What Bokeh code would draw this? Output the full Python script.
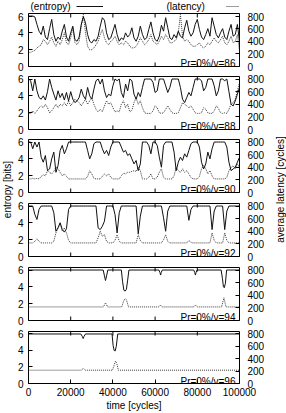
import math
from bokeh.plotting import figure
from bokeh.models import LinearAxis, Range1d, Label, Legend, LegendItem, FixedTicker
from bokeh.layouts import row, column
from bokeh.embed import file_html
from bokeh.resources import INLINE

FONT = "Liberation Sans"

# ---------------- data ----------------
time = list(range(0, 100001, 1000))

x_ticks = [0, 20000, 40000, 60000, 80000, 100000]
x_tick_labels = ["0", "20000", "40000", "60000", "80000", "100000"]
ent_ticks = [0, 2, 4, 6]
ent_tick_labels = ["0", "2", "4", "6"]
lat_ticks = [0, 200, 400, 600, 800]
lat_tick_labels = ["0", "200", "400", "600", "800"]

tags = ["Pr=0%/v=86", "Pr=0%/v=88", "Pr=0%/v=90", "Pr=0%/v=92", "Pr=0%/v=94", "Pr=0%/v=96"]

ent1 = [6.0, 6.0, 6.0, 5.9, 5.0, 4.2, 3.8, 4.8, 3.5, 3.2,
        4.5, 5.6, 3.8, 3.0, 3.5, 3.2, 4.2, 5.0, 3.5, 3.0,
        4.0, 4.8, 3.2, 3.0, 3.5, 5.0, 5.9, 5.2, 3.8, 3.0,
        2.8, 3.2, 3.0, 3.6, 4.8, 5.8, 5.5, 4.0, 3.2, 3.4,
        4.2, 5.0, 3.8, 3.0, 3.4, 3.2, 4.0, 3.5, 3.8, 4.6,
        3.4, 3.0, 3.6, 4.8, 3.8, 3.2, 3.4, 4.4, 5.3, 4.0,
        3.2, 3.0, 3.6, 4.9, 4.2, 5.8, 4.6, 3.4, 3.2, 3.8,
        3.4, 4.2, 3.6, 3.4, 4.6, 5.5, 4.2, 3.6, 4.0, 5.0,
        5.6, 4.4, 3.5, 3.2, 3.8, 4.5, 3.6, 5.8, 4.8, 3.8,
        3.4, 4.0, 4.5, 3.5, 3.2, 4.2, 5.0, 3.6, 3.8, 5.0,
        3.0]
lat1 = [225, 225, 240, 255, 295, 320, 345, 425, 400, 345,
        400, 465, 375, 320, 400, 345, 425, 535, 375, 345,
        455, 615, 375, 345, 400, 640, 825, 535, 320, 265,
        265, 295, 345, 400, 505, 585, 455, 375, 345, 400,
        425, 480, 400, 345, 375, 345, 400, 375, 320, 295,
        295, 320, 375, 455, 400, 345, 375, 425, 505, 400,
        375, 345, 400, 480, 425, 505, 455, 375, 375, 400,
        425, 535, 825, 480, 400, 425, 400, 345, 320, 320,
        345, 375, 320, 295, 320, 375, 345, 400, 455, 400,
        375, 425, 480, 375, 345, 400, 480, 375, 400, 505,
        240]

ent2 = [6.0, 5.8, 4.6, 6.0, 4.6, 3.8, 3.6, 4.0, 3.5, 4.5,
        6.0, 5.0, 4.2, 3.5, 4.6, 3.8, 4.3, 3.5, 4.4, 3.4,
        4.5, 3.6, 3.2, 3.4, 3.8, 4.8, 4.0, 3.6, 5.0, 4.0,
        3.6, 4.8, 5.8, 6.0, 5.4, 6.0, 4.6, 3.8, 4.2, 4.0,
        5.2, 6.0, 5.8, 6.0, 4.4, 3.8, 5.4, 4.6, 6.0, 5.8,
        4.2, 3.6, 4.4, 3.9, 5.0, 6.0, 6.0, 6.0, 6.0, 5.6,
        4.4, 4.6, 6.0, 6.0, 6.0, 5.2, 4.4, 5.0, 6.0, 6.0,
        6.0, 6.0, 5.0, 3.6, 3.2, 3.8, 4.4, 4.0, 5.0, 6.0,
        6.0, 6.0, 5.8, 4.6, 5.0, 6.0, 6.0, 6.0, 5.2, 4.0,
        4.6, 6.0, 6.0, 5.8, 6.0, 4.5, 3.0, 2.8, 3.4, 4.2,
        5.0]
lat2 = [255, 255, 295, 255, 295, 345, 375, 345, 400, 345,
        265, 295, 345, 400, 345, 400, 375, 425, 375, 455,
        375, 425, 480, 455, 425, 375, 425, 480, 400, 455,
        505, 400, 320, 280, 320, 280, 375, 455, 400, 425,
        345, 280, 295, 280, 400, 455, 345, 400, 280, 305,
        425, 505, 400, 455, 345, 265, 255, 255, 255, 295,
        375, 345, 265, 255, 265, 320, 375, 320, 265, 255,
        255, 265, 345, 425, 400, 375, 345, 375, 320, 265,
        255, 255, 265, 345, 320, 265, 255, 255, 295, 375,
        335, 265, 255, 265, 255, 320, 400, 425, 480, 615,
        745]

ent3 = [6.0, 6.0, 5.2, 6.0, 5.4, 6.0, 4.2, 3.6, 4.4, 2.6,
        2.8, 4.0, 4.8, 2.4, 3.2, 5.0, 5.6, 4.6, 5.2, 6.0,
        6.0, 6.0, 6.0, 6.0, 6.0, 6.0, 6.0, 6.0, 5.0, 4.0,
        4.6, 5.8, 6.0, 6.0, 6.0, 5.2, 4.6, 5.0, 4.4, 5.4,
        6.0, 6.0, 6.0, 6.0, 5.4, 4.8, 5.0, 4.4, 4.6, 4.0,
        3.4, 3.8, 2.6, 3.4, 6.0, 6.0, 6.0, 5.6, 4.6, 6.0,
        6.0, 5.6, 4.2, 3.0, 5.6, 6.0, 6.0, 6.0, 6.0, 4.8,
        2.6, 3.6, 4.2, 3.8, 4.6, 4.2, 5.0, 5.8, 6.0, 6.0,
        6.0, 5.4, 3.6, 2.8, 3.4, 4.8, 4.0, 5.2, 6.0, 6.0,
        6.0, 6.0, 6.0, 6.0, 5.4, 3.6, 2.6, 2.8, 3.0, 3.6,
        4.2]
lat3 = [215, 215, 225, 215, 225, 215, 255, 280, 265, 345,
        320, 295, 335, 400, 375, 320, 265, 295, 255, 215,
        215, 215, 215, 215, 215, 215, 215, 215, 255, 345,
        295, 225, 215, 215, 215, 255, 295, 265, 295, 240,
        215, 215, 215, 215, 265, 305, 295, 320, 320, 335,
        345, 335, 400, 345, 215, 215, 215, 240, 295, 215,
        215, 240, 320, 375, 240, 215, 215, 215, 215, 265,
        400, 345, 320, 375, 320, 345, 295, 240, 215, 215,
        215, 255, 375, 425, 375, 295, 345, 265, 215, 215,
        215, 215, 215, 215, 240, 345, 400, 425, 375, 455,
        400]

ent4 = [6.0, 6.0, 6.0, 5.0, 4.4, 5.6, 6.0, 6.0, 6.0, 6.0,
        6.0, 6.0, 5.2, 3.0, 3.4, 4.0, 3.2, 2.9, 3.3, 5.6,
        6.0, 6.0, 6.0, 6.0, 6.0, 6.0, 6.0, 6.0, 6.0, 6.0,
        6.0, 6.0, 6.0, 3.4, 3.2, 3.6, 4.2, 6.0, 6.0, 6.0,
        6.0, 5.0, 2.8, 5.2, 6.0, 6.0, 6.0, 6.0, 6.0, 6.0,
        6.0, 6.0, 2.7, 4.8, 6.0, 6.0, 6.0, 6.0, 6.0, 6.0,
        6.0, 6.0, 6.0, 6.0, 4.6, 3.0, 5.4, 6.0, 6.0, 6.0,
        6.0, 6.0, 6.0, 6.0, 6.0, 6.0, 4.3, 5.6, 6.0, 6.0,
        6.0, 6.0, 6.0, 6.0, 6.0, 6.0, 6.0, 3.2, 5.4, 6.0,
        6.0, 6.0, 6.0, 3.2, 5.4, 6.0, 6.0, 6.0, 6.0, 6.0,
        6.0]
lat4 = [215, 215, 215, 240, 280, 240, 215, 215, 215, 215,
        215, 215, 240, 375, 455, 535, 400, 455, 375, 255,
        215, 215, 215, 215, 215, 215, 215, 215, 215, 215,
        215, 215, 215, 295, 400, 320, 345, 240, 215, 215,
        215, 255, 345, 240, 215, 215, 215, 215, 215, 215,
        215, 215, 345, 255, 215, 215, 215, 215, 215, 215,
        215, 215, 215, 215, 265, 345, 240, 215, 215, 215,
        215, 215, 215, 215, 215, 215, 255, 225, 215, 215,
        215, 215, 215, 215, 215, 215, 215, 375, 255, 215,
        215, 215, 215, 375, 255, 215, 215, 215, 215, 215,
        215]

t5_ent = [0, 35400, 36000, 36500, 37000, 37600, 44000, 44600, 45200, 45800, 46400,
          47000, 47600, 61800, 62300, 62600, 62900, 63400, 78300, 78800, 79100,
          79400, 79900, 91300, 91900, 92400, 92800, 93300, 93900, 100000]
ent5 = [6.0, 6.0, 5.3, 4.75, 5.3, 6.0, 6.0, 4.6, 3.6, 3.5, 3.7,
        4.8, 6.0, 6.0, 5.7, 5.4, 5.7, 6.0, 6.0, 5.7, 5.4,
        5.7, 6.0, 6.0, 5.0, 4.0, 3.9, 4.4, 6.0, 6.0]
t5_lat = [0, 35500, 36500, 37500, 44200, 45200, 45800, 46400, 47400, 61800,
          62600, 63400, 78300, 79100, 79900, 91500, 92600, 93600, 100000]
lat5 = [215, 215, 280, 215, 215, 320, 345, 330, 215, 215,
        245, 215, 215, 245, 215, 215, 360, 215, 215]

t6_ent = [0, 24800, 25500, 25900, 26300, 27000, 39600, 40100, 40600, 41100,
          41600, 42300, 100000]
ent6 = [6.0, 6.0, 5.7, 5.45, 5.7, 6.0, 6.0, 4.6, 4.0, 3.95, 4.5, 6.0, 6.0]
t6_lat = [0, 25000, 26000, 27000, 39800, 40600, 41200, 41800, 42600, 100000]
lat6 = [215, 215, 245, 215, 215, 300, 360, 330, 215, 215]

panels = [
    (time, ent1, time, lat1),
    (time, ent2, time, lat2),
    (time, ent3, time, lat3),
    (time, ent4, time, lat4),
    (t5_ent, ent5, t5_lat, lat5),
    (t6_ent, ent6, t6_lat, lat6),
]

X_MAX = 100000
Y_MAX = 6.3
LAT_MAX = 840

ENT_COLOR = "#111111"
LAT_COLOR = "#3a3a3a"
LAT_DASH = "1 1"

# layout: heights and borders of the six stacked panels
heights = [59, 63, 64, 64, 64, 87]
tops = [1, 5, 5, 5, 5, 5]
bottoms = [5, 5, 6, 6, 6, 29]

MAIN_W = 256
BL, BR = 14, 31


def style_axis(ax, standoff):
    ax.axis_line_color = None
    ax.major_tick_in = 4
    ax.major_tick_out = 0
    ax.major_tick_line_color = "black"
    ax.minor_tick_line_color = None
    ax.major_label_text_font = FONT
    ax.major_label_text_color = "black"
    ax.major_label_text_font_size = "10px"
    ax.major_label_standoff = standoff


# ---------- key strip on top ----------
key = figure(width=MAIN_W, height=12, x_range=Range1d(0, X_MAX), y_range=Range1d(0, 12),
             toolbar_location=None, output_backend="svg",
             x_axis_location=None, y_axis_location=None,
             min_border_left=BL, min_border_right=BR, min_border_top=0, min_border_bottom=0,
             background_fill_color="white", border_fill_color="white")
key.grid.visible = False
key.outline_line_color = None
# key renderers carry the real series, but on a range where they fall outside the strip
key.extra_y_ranges = {"off": Range1d(1000, 2000)}
k_ent = key.line(time, ent1, y_range_name="off", line_color=ENT_COLOR, line_width=1)
k_lat = key.line(time, lat1, y_range_name="off", line_color=LAT_COLOR, line_width=1,
                 line_dash=LAT_DASH)
key.add_layout(Label(x=950, y=6, text="(entropy)", text_align="left",
                     text_baseline="middle", text_font=FONT,
                     text_font_size="10px", text_color="black"))
key.add_layout(Label(x=65400, y=6, text="(latency)", text_align="left",
                     text_baseline="middle", text_font=FONT,
                     text_font_size="10px", text_color="black"))
key.add_layout(Legend(items=[LegendItem(label=" ", renderers=[k_ent]),
                             LegendItem(label=" ", renderers=[k_lat])],
                      orientation="horizontal", location=(48, 1),
                      glyph_width=27, glyph_height=10, label_height=10,
                      label_standoff=0, spacing=103, padding=0, margin=0,
                      border_line_color=None, background_fill_alpha=0,
                      label_text_font=FONT, label_text_font_size="10px"))

figs = [key]
for i, (xe, ye, xl, yl) in enumerate(panels):
    last = i == len(panels) - 1
    p = figure(width=MAIN_W, height=heights[i],
               x_range=Range1d(0, X_MAX), y_range=Range1d(0, Y_MAX),
               toolbar_location=None, output_backend="svg",
               x_axis_location="below" if last else None,
               min_border_left=BL, min_border_right=BR,
               min_border_top=tops[i], min_border_bottom=bottoms[i],
               background_fill_color="white", border_fill_color="white")
    p.extra_y_ranges = {"lat": Range1d(0, LAT_MAX)}
    p.grid.visible = False
    p.outline_line_color = "black"
    p.outline_line_width = 1
    p.outline_line_alpha = 1.0

    p.line(xl, yl, y_range_name="lat", line_color=LAT_COLOR,
           line_width=1, line_dash=LAT_DASH)
    p.line(xe, ye, line_color=ENT_COLOR, line_width=1)

    # mirrored x ticks (inside the frame)
    p.ray(x=x_ticks, y=Y_MAX, length=4, length_units="screen",
          angle=-math.pi / 2, line_color="black", line_width=1)
    if last:
        xa = p.xaxis[0]
        xa.ticker = FixedTicker(ticks=x_ticks)
        xa.major_label_overrides = dict(zip(x_ticks, x_tick_labels))
        style_axis(xa, 4)
        xa.axis_label = "time [cycles]"
        xa.axis_label_text_font = FONT
        xa.axis_label_text_font_size = "10px"
        xa.axis_label_text_font_style = "normal"
        xa.axis_label_text_color = "black"
        xa.axis_label_standoff = 1
    else:
        p.ray(x=x_ticks, y=0, length=4, length_units="screen",
              angle=math.pi / 2, line_color="black", line_width=1)

    ya = p.yaxis[0]
    ya.ticker = FixedTicker(ticks=ent_ticks)
    ya.major_label_overrides = dict(zip(ent_ticks, ent_tick_labels))
    style_axis(ya, 5)

    ra = LinearAxis(y_range_name="lat", ticker=FixedTicker(ticks=lat_ticks))
    ra.major_label_overrides = dict(zip(lat_ticks, lat_tick_labels))
    style_axis(ra, 8)
    ra.major_label_text_align = "left"
    p.add_layout(ra, "right")

    p.add_layout(Label(x=98100, y=0.3, text=tags[i], text_align="right",
                       text_baseline="alphabetic", text_font=FONT,
                       text_font_size="10px", text_color="black"))
    figs.append(p)


def strip(w, text, xc):
    s = figure(width=w, height=413, x_range=Range1d(0, w), y_range=Range1d(0, 413),
               toolbar_location=None, output_backend="svg",
               x_axis_location=None, y_axis_location=None, min_border=0,
               background_fill_color="white", border_fill_color="white")
    s.grid.visible = False
    s.outline_line_color = None
    s.add_layout(Label(x=xc, y=413 - 189, text=text, angle=math.pi / 2,
                       text_align="center", text_baseline="middle",
                       text_font=FONT, text_font_size="10px", text_color="black"))
    return s


left = strip(14, "entropy [bits]", 7)
right = strip(16, "average latency [cycles]", 10)

layout = row(left, column(*figs), right)

open("out.html", "w").write(file_html(layout, INLINE))
